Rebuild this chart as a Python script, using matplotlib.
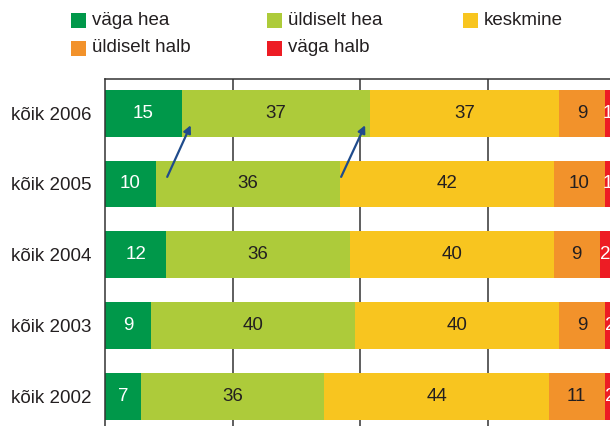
import matplotlib.pyplot as plt
from matplotlib.patches import Rectangle
import numpy as np

plt.rcParams['font.family'] = ['Liberation Sans', 'DejaVu Sans']

years = ['kõik 2006', 'kõik 2005', 'kõik 2004', 'kõik 2003', 'kõik 2002']
categories = ['väga hea', 'üldiselt hea', 'keskmine', 'üldiselt halb', 'väga halb']
vaga_hea = [15, 10, 12, 9, 7]
uldiselt_hea = [37, 36, 36, 40, 36]
keskmine = [37, 42, 40, 40, 44]
uldiselt_halb = [9, 10, 9, 9, 11]
vaga_halb = [1, 1, 2, 2, 2]

colors = ['#00984A', '#ADCB3A', '#F8C51F', '#F2922B', '#ED1C24']
text_colors = ['white', '#231F20', '#231F20', '#231F20', 'white']

# arrows: (segment boundary index, start offset, end offset)
arrows = [(1, 2.2, 1.8), (2, 0.3, -1.0)]

W, H = 610, 426
fig = plt.figure(figsize=(W / 100, H / 100), dpi=100)
ax = fig.add_axes([105 / W, 1 - 431 / H, 510 / W, (431 - 78.5) / H])

series = [vaga_hea, uldiselt_hea, keskmine, uldiselt_halb, vaga_halb]
y = np.arange(len(years))
left = np.zeros(len(years))
cum = []
for vals, c, tc in zip(series, colors, text_colors):
    vals = np.array(vals, dtype=float)
    ax.barh(y, vals, left=left, height=0.66, color=c, zorder=2)
    for yi, l, v in zip(y, left, vals):
        ax.text(l + v / 2, yi, f'{v:g}', ha='center', va='center', color=tc, fontsize=13.5, zorder=3)
    left = left + vals
    cum.append(left.copy())

for k, s_off, e_off in arrows:
    ax.annotate('', xy=(cum[k - 1][0] + e_off, 0.17), xytext=(cum[k - 1][1] + s_off, 0.9),
                arrowprops=dict(arrowstyle='-|>', color='#1F4B8C', lw=1.6, mutation_scale=11,
                                shrinkA=0, shrinkB=0), zorder=4)

ax.set_xlim(0, 100)
ax.set_ylim(4.49, -0.49)
ax.set_yticks(y, years, fontsize=13.5, color='#231F20')
ax.set_xticks([25, 50, 75])
ax.set_xticklabels([])
ax.tick_params(length=0)
ax.tick_params(axis='y', pad=9.5)
ax.grid(axis='x', color='#333333', lw=1.1, zorder=0)
ax.set_axisbelow(True)
for s in ax.spines.values():
    s.set_color('#333333')
    s.set_linewidth(1.1)

# legend drawn by hand
for i, (name, c) in enumerate(zip(categories, colors)):
    col, row = i % 3, i // 3
    x0 = 71 + 196 * col
    yc = 20.3 + 27.7 * row
    fig.add_artist(Rectangle((x0 / W, 1 - (yc + 7.5) / H), 15 / W, 15 / H,
                             transform=fig.transFigure, color=c, lw=0))
    fig.text((x0 + 21) / W, 1 - yc / H, name, ha='left', va='center', fontsize=13.5, color='#231F20')

fig.savefig('out.png', dpi=100)
